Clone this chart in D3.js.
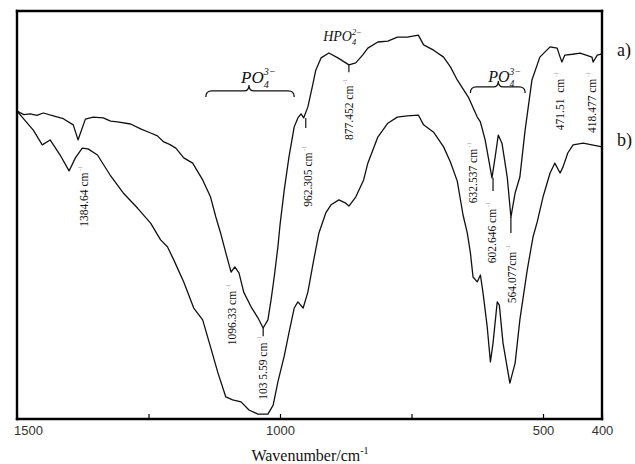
<!DOCTYPE html>
<html>
<head>
<meta charset="utf-8">
<title>FTIR spectra</title>
<script src="https://unpkg.com/d3@7.8.2/dist/d3.min.js"></script>
<style>
  body { margin: 0; background: #fff; }
</style>
</head>
<body>
<div id="chart"></div>
<script>
// curve a) (upper spectrum)
const wavenumbersA = [1500,1487,1475,1462,1450,1431,1412,1393,1384,1370,1355,1336,1322,1309,1284,1265,1246,1233,1221,1210,1198,1183,1166,1147,1132,1122,1113,1103,1093,1086,1078,1069,1055,1042,1032,1023,1017,1011,1004,1000,992,983,973,966,960,955,947,937,932,922,907,890,869,856,843,833,814,795,777,758,737,727,708,689,676,663,642,625,619,610,597,591,585,578,568,561,553,544,534,521,506,488,476,471,468,463,450,437,417,415,408,400];
const transmittanceA = [75.5,74.6,74.8,74.4,75.0,74.3,73.6,72.1,68.4,73.5,74.0,73.8,73.0,72.8,72.3,71.1,70.1,69.4,67.9,67.3,66.4,64.0,62.7,58.6,54.4,49.5,45.6,40.7,36.0,37.3,35.8,31.1,27.5,24.8,22.3,24.3,29.2,34.8,42.2,47.5,56.1,64.2,71.6,73.8,74.8,73.8,76.5,82.4,85.5,88.5,89.7,88.5,86.8,87.3,89.2,90.9,92.4,92.6,93.6,93.6,94.1,91.7,90.4,88.7,86.3,83.1,78.9,74.0,72.8,68.4,59.1,64.2,69.6,67.6,59.3,49.5,55.4,59.3,70.8,83.1,88.7,91.2,90.9,88.7,87.5,89.2,89.4,89.7,88.7,87.5,89.2,89.5];

// curve b) (lower spectrum)
const wavenumbersB = [1500,1489,1469,1452,1437,1418,1401,1389,1376,1365,1347,1323,1298,1271,1246,1227,1214,1202,1183,1164,1147,1132,1118,1103,1090,1074,1059,1042,1023,1013,1004,992,983,973,966,956,947,937,926,913,903,888,875,869,856,841,833,814,795,777,758,737,727,708,689,676,663,652,644,638,633,625,619,614,606,600,595,587,583,576,563,553,544,530,519,511,500,488,480,471,466,458,449,432,417,400];
const transmittanceB = [75.5,73.8,70.8,67.2,68.4,64.7,60.8,64.0,66.4,66.2,64.7,59.8,55.4,51.7,48.0,43.9,42.2,39.0,33.6,27.2,24.3,17.6,11.3,5.4,4.7,4.2,2.2,1.2,1.2,3.4,9.1,15.4,21.1,27.2,28.7,27.2,31.1,38.2,45.6,50.5,52.5,53.7,52.9,52.2,54.4,58.6,62.7,69.1,72.5,74.0,74.3,74.5,72.1,70.3,66.7,63.0,58.3,50.0,45.6,40.7,34.8,33.6,35.3,30.9,22.5,14.0,18.6,28.7,27.9,18.6,8.8,13.7,24.3,36.5,44.6,48.3,54.4,60.3,62.7,60.3,61.8,65.2,67.2,67.6,67.2,66.7];

// peak annotations (rotated text)
const peakTexts = ["1384.64 cm", "1096.33 cm", "103 5.59 cm", "962.305 cm", "877.452 cm", "632.537 cm", "602.646 cm", "564.077cm", "471.51  cm", "418.477 cm"];
const peakLabelWn = [1372, 1092, 1032, 947, 869, 633, 597, 559, 471, 417];
const peakLabelT = [47.1, 18.1, 4.7, 52.0, 68.4, 52.9, 38.2, 28.4, 70.8, 70.1];

// little marker lines under some dips
const markerWn = [1032, 951, 869, 595, 561];
const markerTop = [22.3, 73.8, 86.8, 59.1, 49.5];
const markerBottom = [20.3, 71.3, 85.0, 55.9, 45.6];

// group brackets
const braceStart = [1141, 638];
const braceEnd = [973, 534];
const braceMid = [1059, 585];
const braceT = [80.4, 81.4];

const tickValues = [1500, 1250, 1000, 750, 500, 400];
const tickLabels = ["1500", "", "1000", "", "500", "400"];

const width = 635, height = 464;
const plotLeft = 17, plotRight = 602, plotTop = 11, plotBottom = 419;

const svg = d3.select("#chart").append("svg")
    .attr("width", width)
    .attr("height", height);

// x axis is linear down to 500, the last 100 wavenumbers are a bit wider
const x = d3.scaleLinear()
    .domain([1500, 500, 400])
    .range([plotLeft, 543, plotRight]);

const y = d3.scaleLinear()
    .domain([0, 100])
    .range([plotBottom, plotTop]);

const line = d3.line()
    .x(d => x(d[0]))
    .y(d => y(d[1]));

const serif = "'Liberation Serif', 'Times New Roman', serif";

// spectra
[[wavenumbersA, transmittanceA], [wavenumbersB, transmittanceB]].forEach(s => {
    svg.append("path")
        .datum(d3.zip(s[0], s[1]))
        .attr("d", line)
        .attr("fill", "none")
        .attr("stroke", "#111")
        .attr("stroke-width", 1.3)
        .attr("stroke-linejoin", "round");
});

// frame, drawn as four lines
const frame = [
    [plotLeft, plotTop, plotRight, plotTop],
    [plotRight, plotTop, plotRight, plotBottom],
    [plotLeft, plotBottom, plotRight, plotBottom],
    [plotLeft, plotTop, plotLeft, plotBottom]
];
svg.append("g").selectAll("line")
    .data(frame)
    .join("line")
    .attr("x1", d => d[0]).attr("y1", d => d[1])
    .attr("x2", d => d[2]).attr("y2", d => d[3])
    .attr("stroke", "#000")
    .attr("stroke-width", 2.4)
    .attr("stroke-linecap", "square");

// bottom axis, ticks pointing inwards
const axis = svg.append("g")
    .attr("transform", `translate(0,${plotBottom})`)
    .call(d3.axisBottom(x)
        .tickValues(tickValues)
        .tickSize(-5)
        .tickPadding(7)
        .tickFormat((d, i) => tickLabels[i]));
axis.select(".domain").remove();
axis.selectAll("line").attr("stroke", "#000").attr("stroke-width", 1.2);
axis.selectAll("text")
    .attr("font-family", "'Liberation Sans', Arial, sans-serif")
    .attr("font-size", 13)
    .attr("fill", "#333")
    .attr("dx", d => d === 1500 ? 11 : 0);

// x axis title
const xt = svg.append("text")
    .attr("x", 310)
    .attr("y", 461)
    .attr("text-anchor", "middle")
    .attr("font-family", serif)
    .attr("font-size", 16)
    .attr("fill", "#111")
    .text("Wavenumber/cm");
xt.append("tspan").attr("dy", -7).attr("font-size", 10).text("-1");

// a) b)
svg.append("text").attr("x", 617).attr("y", y(transmittanceA[transmittanceA.length - 1]) + 2)
    .attr("font-family", serif).attr("font-size", 18).attr("fill", "#111").text("a)");
svg.append("text").attr("x", 617).attr("y", y(transmittanceB[transmittanceB.length - 1]) - 1)
    .attr("font-family", serif).attr("font-size", 18).attr("fill", "#111").text("b)");

// peak labels
peakTexts.forEach((t, i) => {
    const g = svg.append("text")
        .attr("transform", `translate(${x(peakLabelWn[i])},${y(peakLabelT[i])}) rotate(-90)`)
        .attr("dominant-baseline", "central")
        .attr("font-family", serif)
        .attr("font-size", 11.5)
        .attr("fill", "#111")
        .style("white-space", "pre")
        .text(t);
    g.append("tspan").attr("dy", -4).attr("font-size", 6).attr("fill", "#999").text(" -1");
});

// marker lines
markerWn.forEach((w, i) => {
    svg.append("line")
        .attr("x1", x(w)).attr("x2", x(w))
        .attr("y1", y(markerTop[i])).attr("y2", y(markerBottom[i]))
        .attr("stroke", "#111").attr("stroke-width", 1.2);
});

// curly brackets
braceStart.forEach((s, i) => {
    const x0 = x(s), x1 = x(braceEnd[i]), xm = x(braceMid[i]), yb = y(braceT[i]);
    const p = d3.path();
    p.moveTo(x0, yb + 6);
    p.quadraticCurveTo(x0, yb, x0 + 6, yb);
    p.lineTo(xm - 5, yb);
    p.quadraticCurveTo(xm, yb, xm, yb - 6);
    p.quadraticCurveTo(xm, yb, xm + 5, yb);
    p.lineTo(x1 - 6, yb);
    p.quadraticCurveTo(x1, yb, x1, yb + 6);
    svg.append("path").attr("d", p.toString())
        .attr("fill", "none").attr("stroke", "#111").attr("stroke-width", 1.2);
});

// ion formulas
function formula(wn, t, main, sub, sup, size) {
    const tx = svg.append("text")
        .attr("x", x(wn)).attr("y", y(t))
        .attr("font-family", serif)
        .attr("font-style", "italic")
        .attr("font-size", size)
        .attr("fill", "#111");
    tx.append("tspan").text(main);
    tx.append("tspan").attr("font-size", size * 0.6).attr("dy", size * 0.3).text(sub);
    tx.append("tspan").attr("font-size", size * 0.6).attr("dx", -size * 0.3).attr("dy", -size * 0.75).text(sup);
}
formula(1074, 82.4, "PO", "4", "3\u2212", 17);
formula(918, 92.6, "HPO", "4", "2\u2212", 14);
formula(604, 82.6, "PO", "4", "3\u2212", 16);
</script>
</body>
</html>
